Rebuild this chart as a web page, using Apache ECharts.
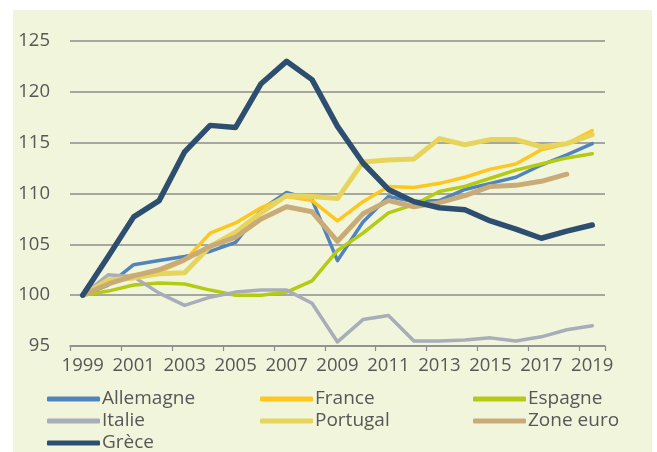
<!DOCTYPE html>
<html>
<head>
<meta charset="utf-8">
<script src="https://cdn.jsdelivr.net/npm/echarts@6/dist/echarts.min.js"></script>
<style>
  html, body { margin: 0; padding: 0; background: #fff; }
  #panel { position: absolute; left: 13px; top: 10px; width: 639px; height: 442px; background: #f1f5dc; }
  #chart { position: absolute; left: 0; top: 0; width: 657px; height: 452px; }
</style>
</head>
<body>
<div id="panel"></div>
<div id="chart"></div>
<script>
const years = ['1999', '2000', '2001', '2002', '2003', '2004', '2005', '2006', '2007', '2008', '2009',
  '2010', '2011', '2012', '2013', '2014', '2015', '2016', '2017', '2018', '2019'];

const allemagne = [100, 101.0, 103.0, 103.4, 103.8, 104.3, 105.2, 108.4, 110.1, 109.4, 103.4,
  107.2, 109.7, 109.2, 109.3, 110.4, 111.0, 111.6, 112.8, 113.8, 114.9];
const france = [100, 101.5, 102.0, 102.3, 103.4, 106.1, 107.1, 108.6, 109.7, 109.3, 107.3,
  109.2, 110.7, 110.6, 111.0, 111.6, 112.4, 112.9, 114.3, 114.9, 116.2];
const espagne = [100, 100.4, 101.0, 101.2, 101.1, 100.5, 100.0, 100.0, 100.3, 101.4, 104.4,
  106.1, 108.1, 108.9, 110.2, 110.7, 111.5, 112.3, 112.9, 113.5, 113.9];
const italie = [100, 102.0, 101.8, 100.2, 99.0, 99.8, 100.3, 100.5, 100.5, 99.2, 95.4,
  97.6, 98.0, 95.5, 95.5, 95.6, 95.8, 95.5, 95.9, 96.6, 97.0];
const portugal = [100, 101.5, 101.7, 102.1, 102.2, 104.8, 106.2, 108.1, 109.8, 109.7, 109.5,
  113.1, 113.3, 113.4, 115.4, 114.8, 115.3, 115.3, 114.6, 114.9, 115.8];
const zoneEuro = [100, 101.1, 101.9, 102.5, 103.5, 104.8, 105.7, 107.5, 108.7, 108.2, 105.3,
  108.0, 109.3, 108.7, 109.1, 109.8, 110.7, 110.8, 111.2, 111.9, null];
const grece = [100, 103.8, 107.7, 109.3, 114.1, 116.7, 116.5, 120.8, 123.0, 121.2, 116.6,
  113.0, 110.4, 109.2, 108.6, 108.4, 107.3, 106.5, 105.6, 106.3, 106.9];

const yTicks = [95, 100, 105, 110, 115, 120, 125];

const myChart = echarts.init(document.getElementById('chart'));

const textColor = '#575757';
const fontFamily = '"Open Sans", "Noto Sans", sans-serif';

function line(name, data, color, width) {
  return {
    name: name,
    type: 'line',
    data: data,
    showSymbol: false,
    symbol: 'none',
    connectNulls: false,
    lineStyle: { color: color, width: width, cap: 'round', join: 'round' },
    itemStyle: { color: color }
  };
}

// une colonne de légende par position (3 colonnes comme dans l'original)
function legendCol(left, names) {
  return {
    orient: 'vertical',
    left: left,
    top: 389,
    height: 120,
    icon: 'roundRect',
    itemWidth: 53,
    itemHeight: 5,
    itemGap: 2,
    padding: 0,
    data: names,
    textStyle: { color: textColor, fontSize: 19, fontFamily: fontFamily, lineHeight: 20, padding: [0, 0, 0, -3] }
  };
}

const option = {
  animation: false,
  backgroundColor: 'transparent',
  grid: { left: 70, right: 52, top: 41, bottom: 106, containLabel: false },
  legend: [
    legendCol(47, ['Allemagne', 'Italie', 'Grèce']),
    legendCol(260, ['France', 'Portugal']),
    legendCol(473, ['Espagne', 'Zone euro'])
  ],
  xAxis: {
    type: 'category',
    data: years,
    boundaryGap: true,
    axisLine: { show: true, lineStyle: { color: '#8c8c8c', width: 1.5 } },
    axisTick: { show: true, length: 5, lineStyle: { color: '#8c8c8c', width: 1.2 } },
    axisLabel: { interval: 1, color: textColor, fontSize: 18.5, fontFamily: fontFamily, margin: 10 }
  },
  yAxis: {
    type: 'value',
    min: yTicks[0],
    max: yTicks[yTicks.length - 1],
    interval: 5,
    axisLine: { show: false },
    axisTick: { show: false },
    splitLine: { lineStyle: { color: '#8c8c8c', width: 1.5 } },
    axisLabel: { color: textColor, fontSize: 18.5, fontFamily: fontFamily, margin: 20 }
  },
  series: [
    line('Allemagne', allemagne, '#5183bd', 3.5),
    line('France', france, '#ffc61e', 3.5),
    line('Espagne', espagne, '#b3cb12', 3.5),
    line('Italie', italie, '#a9adba', 3.5),
    line('Portugal', portugal, '#e6d45d', 5),
    line('Zone euro', zoneEuro, '#c9ab78', 5),
    line('Grèce', grece, '#2d4e6f', 5.5)
  ]
};

myChart.setOption(option);
window.addEventListener('resize', () => myChart.resize());
</script>
</body>
</html>
